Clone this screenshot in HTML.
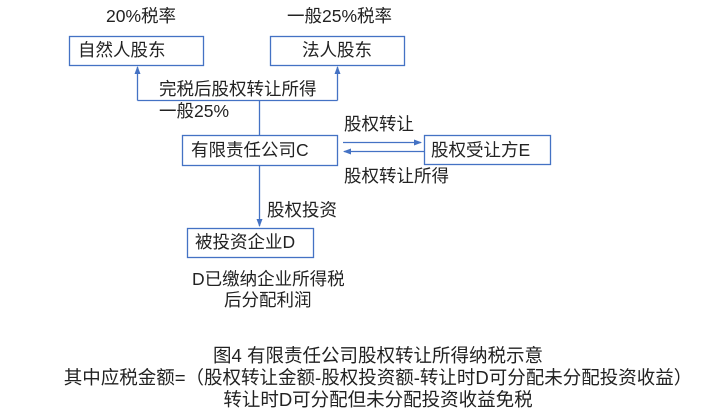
<!DOCTYPE html>
<html><head><meta charset="utf-8"><style>
body{margin:0;width:728px;height:420px;background:#fff;position:relative;overflow:hidden;font-family:"Liberation Sans","Noto Sans CJK SC",sans-serif;color:#222;}
.t{position:absolute;white-space:nowrap;font-size:17.5px;line-height:20px;}
.c{position:absolute;white-space:nowrap;font-size:18.5px;line-height:22px;left:0;width:756px;text-align:center;}
</style></head><body>
<svg width="728" height="420" style="position:absolute;left:0;top:0">
<defs><marker id="a" markerWidth="8" markerHeight="8" refX="7" refY="4" orient="auto" markerUnits="userSpaceOnUse"><path d="M0,1 L8,4 L0,7 Z" fill="#4472C4"/></marker></defs>
<g fill="none" stroke="#4472C4" stroke-width="1.3">
<rect x="69.5" y="36.5" width="134" height="29"/>
<rect x="270.5" y="36.5" width="134" height="29"/>
<rect x="182.5" y="135.5" width="155" height="30"/>
<rect x="424.5" y="135.5" width="126" height="29"/>
<rect x="187.5" y="228.5" width="126" height="29"/>
<polyline points="137.5,100.5 337.5,100.5"/>
<line x1="137.5" y1="100.5" x2="137.5" y2="67" marker-end="url(#a)"/>
<line x1="337.5" y1="100.5" x2="337.5" y2="67" marker-end="url(#a)"/>
<line x1="259.5" y1="100.5" x2="259.5" y2="135"/>
<line x1="259.5" y1="166" x2="259.5" y2="226" marker-end="url(#a)"/>
<line x1="343" y1="142.5" x2="421" y2="142.5" marker-end="url(#a)"/>
<line x1="424" y1="151.5" x2="344" y2="151.5" marker-end="url(#a)"/>
</g></svg>
<div class="t" style="left:106px;top:6px">20%税率</div>
<div class="t" style="left:287px;top:6px">一般25%税率</div>
<div class="t" style="left:78px;top:40px">自然人股东</div>
<div class="t" style="left:302px;top:40px">法人股东</div>
<div class="t" style="left:159px;top:79px">完税后股权转让所得</div>
<div class="t" style="left:159px;top:101px">一般25%</div>
<div class="t" style="left:344px;top:114px">股权转让</div>
<div class="t" style="left:191px;top:140px">有限责任公司C</div>
<div class="t" style="left:431px;top:140px">股权受让方E</div>
<div class="t" style="left:344px;top:166px">股权转让所得</div>
<div class="t" style="left:267px;top:200px">股权投资</div>
<div class="t" style="left:195px;top:232px">被投资企业D</div>
<div class="t" style="left:192px;top:269px">D已缴纳企业所得税</div>
<div class="t" style="left:224px;top:290px">后分配利润</div>
<div class="c" style="top:345px">图4 有限责任公司股权转让所得纳税示意</div>
<div class="c" style="top:367px">其中应税金额=（股权转让金额-股权投资额-转让时D可分配未分配投资收益）</div>
<div class="c" style="top:389px">转让时D可分配但未分配投资收益免税</div>
</body></html>
